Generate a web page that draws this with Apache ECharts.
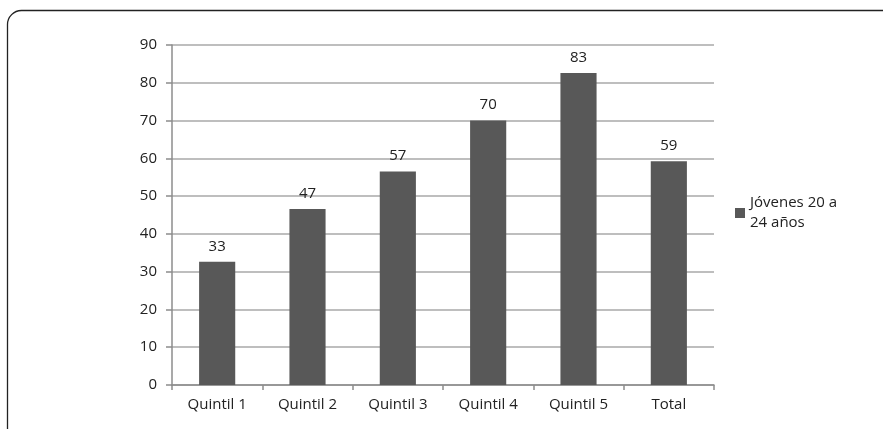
<!DOCTYPE html>
<html><head><meta charset="utf-8">
<script src="https://cdn.jsdelivr.net/npm/echarts@6/dist/echarts.min.js"></script>
<style>html,body{margin:0;padding:0;background:#fff}#c{width:883px;height:429px}</style>
</head><body><div id="c"></div>
<script>
const categories = ['Quintil 1','Quintil 2','Quintil 3','Quintil 4','Quintil 5','Total'];
const values = [32.6, 46.6, 56.5, 70.0, 82.6, 59.2];
const seriesName = 'Jóvenes 20 a\n24 años';
const yTicks = {min: 0, max: 90, interval: 10};

const chart = echarts.init(document.getElementById('c'));
const font = 'Open Sans, Noto Sans, sans-serif';
chart.setOption({
  animation: false,
  graphic: [{type:'rect', shape:{x:7.5, y:10.5, width:900, height:450, r:14}, style:{fill:'none', stroke:'#222', lineWidth:1.3}, z:-1}],
  grid: {left: 172, right: 169, top: 45, bottom: 44},
  legend: {
    data: [seriesName], orient: 'vertical', left: 730, top: 188,
    itemWidth: 10, itemHeight: 10, itemGap: 4, icon: 'rect',
    textStyle: {fontFamily: font, fontSize: 15, color: '#222', lineHeight: 20}
  },
  xAxis: {
    type: 'category', data: categories,
    axisLine: {lineStyle: {color: '#8c8c8c', width: 1.5}},
    axisTick: {show: true, inside: false, length: 5, lineStyle: {color: '#8c8c8c', width: 1.5}},
    axisLabel: {fontFamily: font, fontSize: 15, color: '#222', margin: 12}
  },
  yAxis: {
    type: 'value', min: yTicks.min, max: yTicks.max, interval: yTicks.interval,
    axisLine: {show: true, lineStyle: {color: '#8c8c8c', width: 1.5}},
    axisTick: {show: true, length: 6, lineStyle: {color: '#8c8c8c', width: 1.5}},
    splitLine: {lineStyle: {color: '#a8a8a8', width: 1.5}},
    axisLabel: {fontFamily: font, fontSize: 15, color: '#222', margin: 15}
  },
  series: [{
    name: seriesName, type: 'bar', data: values, barWidth: '40%',
    itemStyle: {color: '#585858'},
    label: {show: true, position: 'top', distance: 8, fontFamily: font, fontSize: 15, color: '#222',
      formatter: p => Math.round(p.value)}
  }]
});
</script></body></html>
